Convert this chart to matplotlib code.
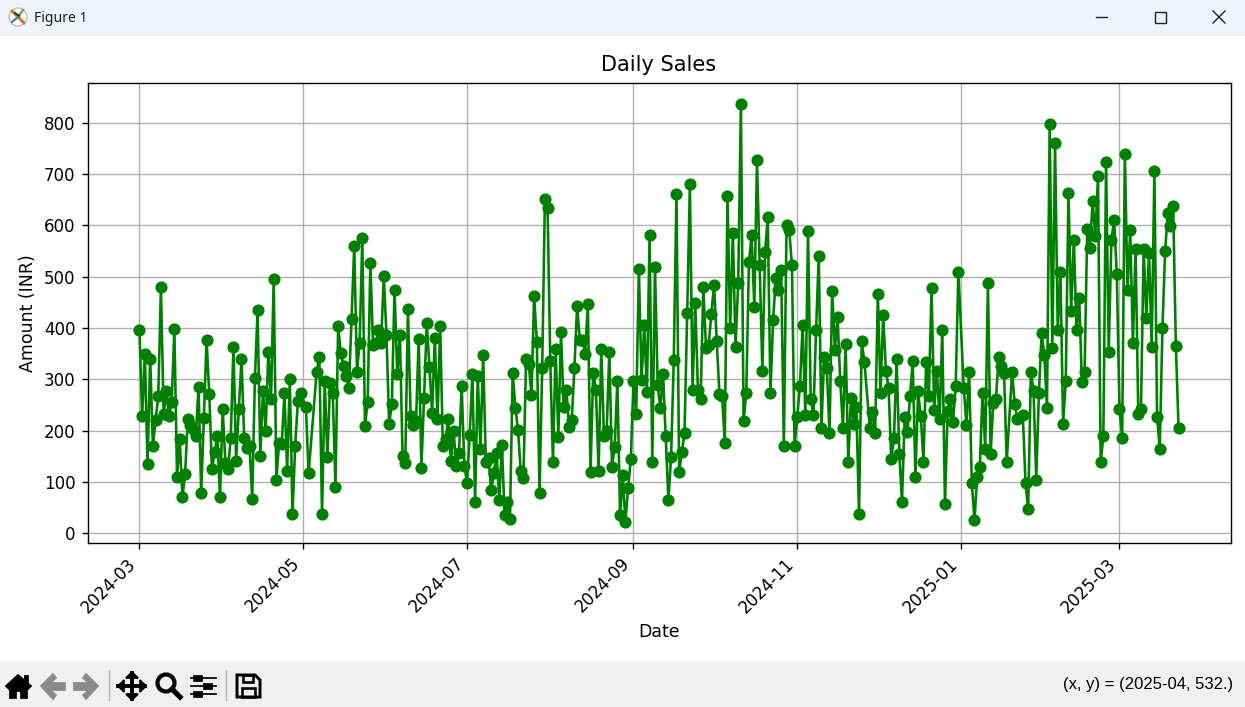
import pandas as pd
import matplotlib
matplotlib.use('Agg')
import matplotlib.pyplot as plt
import matplotlib.dates as mdates
from matplotlib.patches import Polygon, Rectangle, Circle

# days with no record in the series (offset from start_date)
start_date = '2024-03-01'
last_date = '2025-03-23'
skipped_days = [61, 64, 65, 271, 306, 324, 328]

amounts = [
    396, 229, 350, 136, 340, 170, 220, 267, 480, 233,
    277, 228, 256, 398, 109, 184, 70, 116, 222, 212,
    203, 189, 286, 79, 225, 377, 272, 126, 158, 190,
    70, 243, 138, 126, 186, 363, 142, 243, 340, 186,
    167, 170, 68, 303, 435, 151, 277, 200, 354, 262,
    496, 105, 176, 175, 273, 122, 301, 38, 170, 258,
    273, 246, 117, 315, 344, 38, 296,
    149, 293, 273, 91, 404, 351, 327, 307, 283, 418,
    560, 315, 371, 575, 210, 256, 526, 367, 370, 396,
    371, 501, 387, 213, 252, 474, 311, 387, 150, 137,
    437, 228, 211, 218, 379, 128, 264, 410, 325, 235,
    381, 222, 404, 170, 183, 222, 141, 199, 131, 157,
    288, 132, 99, 192, 311, 62, 306, 165, 348, 139,
    147, 84, 118, 157, 65, 173, 35, 62, 29, 313,
    245, 201, 122, 108, 340, 330, 270, 463, 373, 79,
    323, 651, 634, 336, 140, 360, 188, 392, 247, 280,
    208, 220, 323, 443, 377, 377, 350, 447, 120, 313,
    280, 122, 360, 190, 199, 354, 130, 169, 297, 35,
    113, 23, 89, 144, 296, 233, 515, 299, 406, 276,
    581, 140, 518, 289, 244, 311, 189, 65, 148, 338,
    662, 120, 158, 196, 429, 680, 280, 449, 280, 262,
    480, 362, 367, 428, 484, 375, 272, 267, 177, 657,
    400, 585, 364, 488, 836, 218, 274, 529, 581, 441,
    727, 523, 317, 548, 616, 274, 416, 497, 474, 513,
    171, 601, 591, 523, 171, 227, 288, 406, 231, 589,
    262, 231, 396, 540, 206, 344, 323, 196, 472, 358,
    422, 297, 206, 369, 140, 264, 214, 247, 37, 375,
    334, 206, 237, 196, 466, 274, 426, 317, 284,
    144, 185, 340, 155, 61, 227, 198, 268, 336, 109,
    278, 228, 140, 334, 267, 478, 241, 316, 222, 397,
    58, 238, 262, 217, 288, 509, 284, 212, 315,
    99, 26, 109, 130, 274, 165, 488, 155, 254, 262,
    344, 327, 313, 140, 315, 252, 222, 231,
    99, 48, 315, 278, 105, 274, 390, 348, 245, 797,
    361, 760, 397, 509, 214, 297, 663, 434, 572, 397,
    459, 294, 315, 593, 556, 647, 580, 696, 140, 189,
    723, 354, 572, 610, 505, 243, 186, 739, 474, 591,
    371, 554, 233, 243, 554, 420, 546, 364, 706, 227,
    165, 400, 550, 624, 599, 637, 365, 206,
]

all_days = pd.date_range(start_date, last_date)
dates = [d for i, d in enumerate(all_days) if i not in skipped_days]

W, H = 1245, 707
fig = plt.figure(figsize=(W / 125, H / 125), dpi=125)

# window frame behind the plot, in pixels
win = fig.add_axes([0, 0, 1, 1], zorder=-1)
win.set_xlim(0, W)
win.set_ylim(H, 0)
win.axis('off')
win.add_patch(Rectangle((0, 0), W, 36, color='#eff3fb', lw=0))
win.add_patch(Rectangle((0, 661), W, 46, color='#f0f0f0', lw=0))
win.text(34, 18, 'Figure 1', family='Noto Sans', fontsize=8.0, va='center', color='#1a1a1a')

# app icon
win.add_patch(Circle((18, 17), 9, fc='white', ec='#b8b8b8', lw=0.7))
win.plot([12, 24], [11, 23], color='#e8702a', lw=1.8, solid_capstyle='round')
win.plot([12, 18], [22, 17], color='#2c7fb8', lw=1.2)
win.plot([18, 23], [17, 10], color='#6aa84f', lw=1.4)
win.plot([15, 19], [13, 16], color='#333333', lw=1.2)

# minimize, maximize, close
win.plot([1096, 1107], [17, 17], color='#222222', lw=0.8)
win.add_patch(Rectangle((1154.5, 11.5), 11, 11, fc='none', ec='#222222', lw=0.8))
win.plot([1213, 1225], [11, 23], color='#222222', lw=0.8)
win.plot([1213, 1225], [23, 11], color='#222222', lw=0.8)

# toolbar icons
win.add_patch(Polygon([(6, 686), (18, 675), (31, 686), (28, 689), (18, 680), (9, 689)], color='black'))
win.add_patch(Polygon([(10, 688), (18, 681), (27, 688), (27, 698), (21, 698), (21, 691), (16, 691), (16, 698), (10, 698)], color='black'))
win.add_patch(Rectangle((25, 676), 3, 6, color='black'))
win.add_patch(Polygon([(41, 686), (53, 674), (56, 678), (50, 683), (65, 683), (65, 690), (50, 690), (56, 695), (53, 699)], color='#8a8a8a'))
win.add_patch(Polygon([(98, 686), (86, 674), (83, 678), (89, 683), (74, 683), (74, 690), (89, 690), (83, 695), (86, 699)], color='#8a8a8a'))
win.plot([108.5, 108.5], [670, 700], color='#b4b4b4', lw=0.8)
win.plot([225.5, 225.5], [670, 700], color='#b4b4b4', lw=0.8)

# pan
win.plot([118, 145], [686, 686], color='black', lw=2.2)
win.plot([132, 132], [673, 699], color='black', lw=2.2)
win.add_patch(Polygon([(118, 686), (124, 680), (124, 692)], color='black'))
win.add_patch(Polygon([(146, 686), (140, 680), (140, 692)], color='black'))
win.add_patch(Polygon([(132, 672), (126, 678), (138, 678)], color='black'))
win.add_patch(Polygon([(132, 700), (126, 694), (138, 694)], color='black'))

# zoom
win.add_patch(Circle((166, 683), 8.5, fc='none', ec='black', lw=2.4))
win.plot([172, 180], [689, 697], color='black', lw=3)

# sliders
for yy, xx in [(678, 198), (686, 208), (694, 198)]:
    win.plot([191, 216], [yy, yy], color='black', lw=1)
    win.add_patch(Rectangle((xx - 4, yy - 2.5), 8, 5, color='black'))

# save
win.add_patch(Polygon([(237, 675), (255, 675), (260, 680), (260, 697), (237, 697)], fc='none', ec='black', lw=1.7))
win.add_patch(Rectangle((243, 675), 10, 7, fc='none', ec='black', lw=1.5))
win.add_patch(Rectangle((242, 688), 13, 9, fc='none', ec='black', lw=1.5))

win.text(1233, 685, '(x, y) = (2025-04, 532.)', family='Liberation Sans', fontsize=9.6, ha='right', va='center', color='black')

ax = fig.add_axes([87.5 / W, 1 - 542.5 / H, (1230.5 - 87.5) / W, (542.5 - 83.3) / H])
ax.plot(dates, amounts, marker='o', color='green')
ax.set_title('Daily Sales', pad=7.2)
ax.set_xlabel('Date')
ax.set_ylabel('Amount (INR)')
ax.xaxis.set_major_locator(mdates.MonthLocator(bymonth=[1, 3, 5, 7, 9, 11]))
ax.xaxis.set_major_formatter(mdates.DateFormatter('%Y-%m'))
ax.tick_params(labelsize=9.6)
ax.grid(True)
plt.setp(ax.get_xticklabels(), rotation=45, ha='right')

fig.savefig('out.png', dpi=125)
